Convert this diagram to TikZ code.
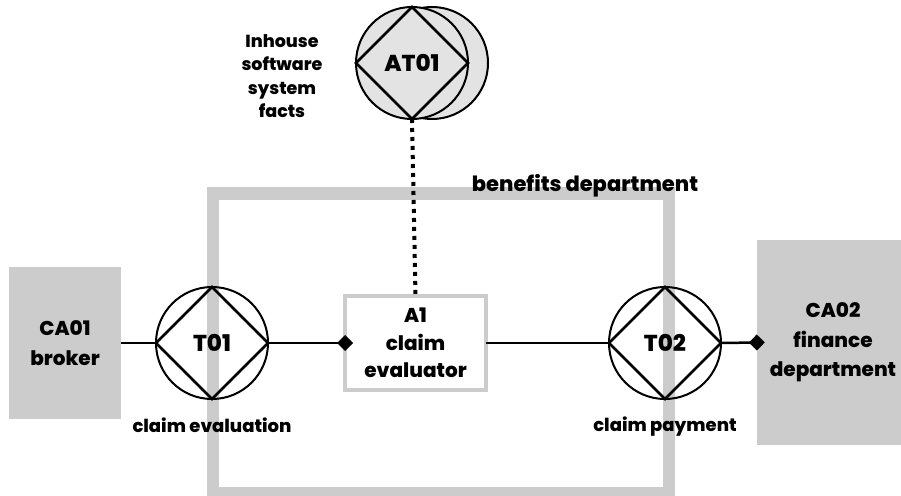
\documentclass[tikz,border=0pt]{standalone}
\usepackage{fontspec}
\setmainfont{Poppins}[BoldFont={Poppins ExtraBold}]
\usetikzlibrary{arrows.meta}
\definecolor{bordergray}{HTML}{CCCCCC}
\definecolor{actorgray}{HTML}{E3E3E3}
\tikzset{
  lbl/.style={font=\bfseries\fontsize{18}{20}\selectfont, align=center, inner sep=0pt},
  headlbl/.style={font=\bfseries\fontsize{21}{22}\selectfont, align=center, inner sep=0pt},
  smalllbl/.style={font=\bfseries\fontsize{17.5}{23.5}\selectfont, align=center, inner sep=0pt},
  trans/.style={circle, draw, line width=2pt, minimum size=112pt, inner sep=0pt, outer sep=0pt,
    font=\bfseries\fontsize{23}{24}\selectfont},
  party/.style={fill=bordergray, inner sep=0pt, align=center,
    font=\bfseries\fontsize{20}{29.5}\selectfont},
  actorbox/.style={draw=bordergray, line width=4pt, fill=white, inner sep=0pt, outer sep=0pt,
    align=center, minimum width=141pt, minimum height=94pt,
    font=\bfseries\fontsize{20}{27.5}\selectfont},
  orgbox/.style={draw=bordergray, line width=12.5pt, inner sep=0pt, outer sep=0pt},
  conn/.style={line width=2.5pt},
  diamondend/.style={-{Diamond[length=16pt,width=16pt]}, shorten >=-8pt},
  factlink/.style={line width=4pt, dash pattern=on 4pt off 5pt}
}
\newcommand{\transdiamond}[1]{%
  \draw[line width=2.5pt, line join=miter] (#1.north) -- (#1.east) -- (#1.south) -- (#1.west) -- cycle;}
\begin{document}
\begin{tikzpicture}[x=1pt,y=-1pt]
\useasboundingbox (0,0) rectangle (901,495);

% organisation boundary
\node[orgbox, minimum width=456pt, minimum height=299.5pt] (bd) at (441,343.25) {};

% composite actors
\node[party, minimum width=112pt, minimum height=152pt] (CA01) at (65,343) {CA01\\broker};
\node[party, minimum width=152pt, minimum height=205pt] (CA02) at (833,342.5) {CA02\\finance\\department};

% elementary actor role
\node[actorbox] (A1) at (415.5,343) {A1\\claim\\evaluator};

% transactions
\node[trans] (T01) at (212,343) {T01};
\transdiamond{T01}
\node[trans] (T02) at (665,343) {T02};
\transdiamond{T02}

% aggregated transaction (fact bank)
\node[trans, fill=actorgray] (AT01b) at (432,63) {};
\node[trans, fill=actorgray] (AT01) at (412,63) {AT01};
\transdiamond{AT01}

% links
\draw[conn] (CA01.east) -- (T01.west);
\draw[conn, diamondend] (T01.east) -- (A1.west);
\draw[conn] (A1.east) -- (T02.west);
\draw[conn, diamondend] (T02.east) -- (CA02.west);
\draw[factlink] (AT01.south) -- (A1.north);

% labels
\node[lbl] (l01) at (212,425) {claim evaluation};
\node[lbl] (l02) at (665,427) {claim payment};
\node[headlbl] (lbd) at (585,186) {benefits department};
\node[smalllbl] (lat) at (282,76) {Inhouse\\software\\system\\facts};
\end{tikzpicture}
\end{document}
